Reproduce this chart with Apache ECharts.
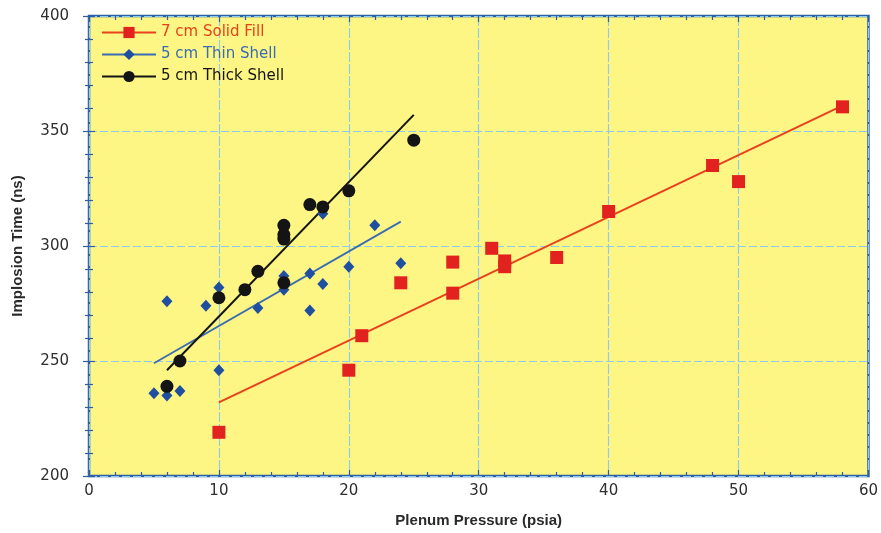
<!DOCTYPE html>
<html>
<head>
<meta charset="utf-8">
<script src="https://cdn.jsdelivr.net/npm/echarts@6/dist/echarts.min.js"></script>
<style>
  html, body { margin: 0; padding: 0; background: #ffffff; }
  #chart { width: 881px; height: 533px; }
</style>
</head>
<body>
<div id="chart"></div>
<script>
// Measured shots: plenum pressure (psia) vs implosion time (ns)
const solidFillX  = [10, 20, 21, 24, 28, 28, 31, 32, 32, 36, 40, 48, 50, 58];
const solidFillY  = [219, 246, 261, 284, 293, 279.5, 299, 293.5, 291, 295, 315, 335, 328, 360.5];

const thinShellX  = [5, 6, 6, 7, 9, 10, 10, 13, 15, 15, 17, 17, 18, 18, 20, 22, 24];
const thinShellY  = [236, 235, 276, 237, 274, 282, 246, 273, 287, 281, 288, 272, 283.5, 314, 291, 309, 292.5];

const thickShellX = [6, 7, 10, 12, 13, 15, 15, 15, 15, 17, 18, 20, 25];
const thickShellY = [239, 250, 277.5, 281, 289, 309, 305, 303, 284, 318, 317, 324, 346];

// Linear trend lines (end points)
const solidFillFitX  = [10, 58];
const solidFillFitY  = [232, 361];
const thinShellFitX  = [5, 24];
const thinShellFitY  = [249, 310.6];
const thickShellFitX = [6, 25];
const thickShellFitY = [246, 357];

const seriesNames = ['7 cm Solid Fill', '5 cm Thin Shell', '5 cm Thick Shell'];
const xRange = [0, 60, 10];
const yRange = [200, 400, 50];

const RED = '#e1221f', RED_LINE = '#e8421c';
const BLUE = '#1f4f9f', BLUE_LINE = '#3a6cb2';
const BLACK = '#141414';
const FRAME = '#2c5fa6';
const GRIDLINE = '#8fcbec';

const pairs = (xs, ys) => xs.map((x, i) => [x, ys[i]]);

function pointSeries(name, xs, ys, symbol, size, color) {
  return {
    name: name,
    type: 'line',
    data: pairs(xs, ys),
    symbol: symbol,
    symbolSize: size,
    showSymbol: true,
    itemStyle: { color: color },
    lineStyle: { opacity: 0, color: color },
    z: 5,
    silent: true,
    animation: false
  };
}

function fitSeries(xs, ys, color, width) {
  return {
    type: 'line',
    data: pairs(xs, ys),
    symbol: 'none',
    lineStyle: { color: color, width: width },
    z: 3,
    silent: true,
    animation: false
  };
}

const tickStyle = { color: FRAME, width: 1.2 };

const chart = echarts.init(document.getElementById('chart'), null, { renderer: 'canvas' });
chart.setOption({
  backgroundColor: '#ffffff',
  animation: false,
  grid: {
    left: 89, right: 11, top: 16, bottom: 49,
    show: true,
    backgroundColor: '#fdf684',
    borderColor: FRAME,
    borderWidth: 2.5
  },
  legend: {
    orient: 'vertical',
    left: 96, top: 20,
    itemWidth: 54, itemHeight: 14,
    itemGap: 7,
    textStyle: { fontFamily: 'DejaVu Sans', fontSize: 15 },
    data: [
      { name: seriesNames[0], lineStyle: { opacity: 1, width: 2, color: RED_LINE }, textStyle: { color: RED_LINE } },
      { name: seriesNames[1], lineStyle: { opacity: 1, width: 2, color: BLUE_LINE }, textStyle: { color: BLUE_LINE } },
      { name: seriesNames[2], lineStyle: { opacity: 1, width: 2, color: BLACK }, textStyle: { color: BLACK } }
    ]
  },
  xAxis: [
    {
      type: 'value', position: 'bottom',
      min: xRange[0], max: xRange[1], interval: xRange[2],
      name: 'Plenum Pressure (psia)', nameLocation: 'middle', nameGap: 37,
      nameTextStyle: { fontFamily: 'Liberation Sans', fontWeight: 'bold', fontSize: 15, color: '#2a2a2a' },
      axisLine: { show: false },
      axisTick: { inside: true, length: 6, lineStyle: tickStyle },
      minorTick: { show: true, splitNumber: 5, length: 4, lineStyle: tickStyle },
      splitLine: { show: true, lineStyle: { color: GRIDLINE, width: 1.2, type: [10, 2] } },
      axisLabel: { margin: 8, fontFamily: 'DejaVu Sans', fontSize: 15, color: '#2e2e2e' }
    },
    {
      type: 'value', position: 'top',
      min: xRange[0], max: xRange[1], interval: xRange[2],
      axisLine: { show: false },
      axisTick: { inside: true, length: 6, lineStyle: tickStyle },
      minorTick: { show: true, splitNumber: 5, length: 4, lineStyle: tickStyle },
      splitLine: { show: false },
      axisLabel: { show: false }
    }
  ],
  yAxis: [
    {
      type: 'value', position: 'left',
      min: yRange[0], max: yRange[1], interval: yRange[2],
      name: 'Implosion Time (ns)', nameLocation: 'middle', nameGap: 64,
      nameTextStyle: { fontFamily: 'Liberation Sans', fontWeight: 'bold', fontSize: 15, color: '#2a2a2a' },
      axisLine: { show: false },
      axisTick: { inside: true, length: 6, lineStyle: tickStyle },
      minorTick: { show: true, splitNumber: 5, length: 4, lineStyle: tickStyle },
      splitLine: { show: true, lineStyle: { color: GRIDLINE, width: 1.2, type: [8, 3] } },
      axisLabel: { margin: 20, fontFamily: 'DejaVu Sans', fontSize: 15, color: '#2e2e2e' }
    },
    {
      type: 'value', position: 'right',
      min: yRange[0], max: yRange[1], interval: yRange[2],
      axisLine: { show: false },
      axisTick: { inside: true, length: 6, lineStyle: tickStyle },
      minorTick: { show: true, splitNumber: 5, length: 4, lineStyle: tickStyle },
      splitLine: { show: false },
      axisLabel: { show: false }
    }
  ],
  series: [
    fitSeries(solidFillFitX, solidFillFitY, RED_LINE, 2),
    fitSeries(thinShellFitX, thinShellFitY, BLUE_LINE, 1.8),
    fitSeries(thickShellFitX, thickShellFitY, BLACK, 2),
    pointSeries(seriesNames[0], solidFillX, solidFillY, 'rect', 13, RED),
    pointSeries(seriesNames[1], thinShellX, thinShellY, 'diamond', [11, 12], BLUE),
    pointSeries(seriesNames[2], thickShellX, thickShellY, 'circle', 13, BLACK)
  ]
});
</script>
</body>
</html>
